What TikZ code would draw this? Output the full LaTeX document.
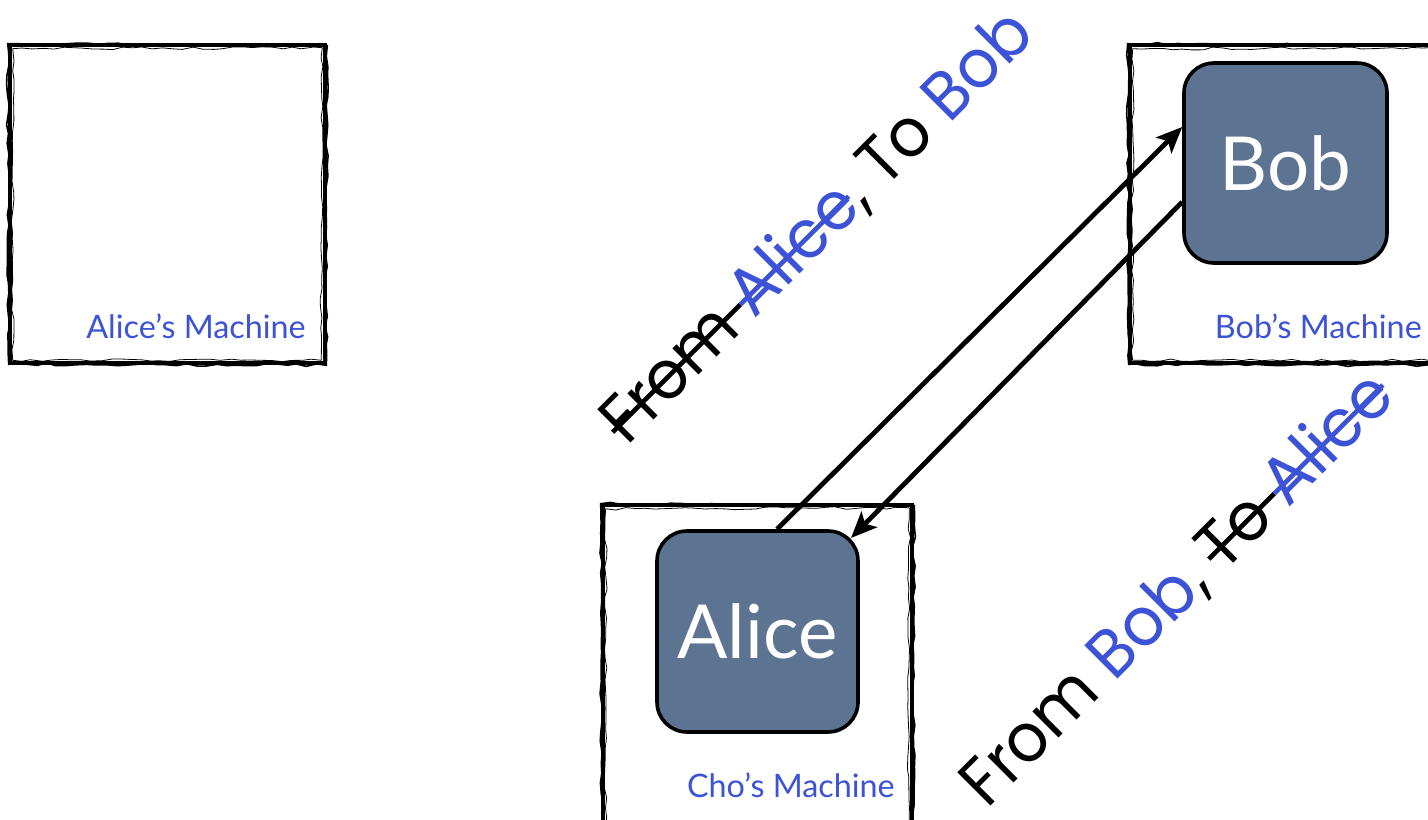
\documentclass[tikz,border=0pt]{standalone}
\usepackage{fontspec}
\usetikzlibrary{arrows.meta,calc,decorations.pathmorphing}
\setmainfont{Lato}
\newfontfamily\geofont{Poppins}
\definecolor{tagblue}{RGB}{60,82,215}
\definecolor{slate}{RGB}{92,116,146}

% strike a piece of text through at mid x-height, in the current colour
\newsavebox\strikebox
\newcommand\struck[1]{\sbox\strikebox{#1}\rlap{\rule[0.27em]{\wd\strikebox}{0.07em}}\usebox\strikebox}

% hand-drawn looking frame around a named node
\newcommand\roughframe[1]{%
  \draw[line width=0.9mm] (#1.north west) rectangle (#1.south east);
  \draw[rough] ($(#1.north west)+(-2,-1)$) -- ($(#1.north east)+(2,1)$)
               -- ($(#1.south east)+(1,2)$) -- ($(#1.south west)+(-1,1)$) -- cycle;
  \draw[rough, line width=0.2mm] ($(#1.north west)+(3,4)$) -- ($(#1.north east)+(-3,3)$)
               -- ($(#1.south east)+(-4,-3)$) -- ($(#1.south west)+(3,-3)$) -- cycle;
}

\begin{document}
\begin{tikzpicture}[x=0.25mm, y=-0.25mm,
  machine/.style={draw=none, inner sep=0pt, minimum width=78.75mm, minimum height=79.5mm},
  rough/.style={line width=0.4mm, decorate,
    decoration={random steps, segment length=2.5mm, amplitude=0.35mm}},
  agent/.style={draw=black, line width=0.9mm, fill=slate, rounded corners=7.5mm,
    minimum width=50.25mm, minimum height=50.25mm, inner sep=0pt,
    text=white, font=\fontsize{53}{60}\selectfont},
  mlabel/.style={anchor=base east, inner sep=0pt, text=tagblue,
    font=\fontsize{23}{27}\selectfont},
  diag/.style={rotate=45, anchor=base west, inner sep=0pt,
    font=\geofont\fontsize{48}{56}\selectfont},
  msg/.style={line width=1.2mm, -{Stealth[length=6.5mm, width=5.5mm, inset=1.5mm]}}
]
\useasboundingbox (0,0) rectangle (1428,820);
\fill[white] (0,0) rectangle (1428,820);
\clip (0,0) rectangle (1428,820);
\pgfmathsetseed{11}

% machines
\node[machine] (amach) at (167.5,204) {};
\node[machine, minimum width=77.25mm, minimum height=84mm] (cmach) at (757.5,673) {};
\node[machine] (bmach) at (1287.5,204) {};
\roughframe{amach}
\roughframe{cmach}
\roughframe{bmach}

\node[mlabel] (alab) at (306,338) {Alice’s Machine};
\node[mlabel] (clab) at (895,797) {Cho’s Machine};
\node[mlabel] (blab) at (1422,338) {Bob’s Machine};

% agents
\node[agent] (alice) at (757.5,631.5) {Alice};
\node[agent, minimum width=50.75mm, minimum height=50mm] (bob) at (1285.5,163) {Bob};

% messages
\draw[msg] ($(alice.north)+(19.5,0)$) -- ($(bob.west)+(0,-36)$);
\draw[msg] ($(bob.west)+(0,39)$) -- ($(alice.north east)+(-8.8,8.8)$);

% message headers
\node[diag] (hdr1) at (627,447)
  {\scalebox{0.95}[1]{\struck{From\ }\textcolor{tagblue}{\struck{Alice}}, To \textcolor{tagblue}{Bob}}};
\node[diag] (hdr2) at (987,810)
  {\scalebox{0.95}[1]{From \textcolor{tagblue}{Bob}, \struck{To\ }\textcolor{tagblue}{\struck{Alice}}}};
\end{tikzpicture}
\end{document}
